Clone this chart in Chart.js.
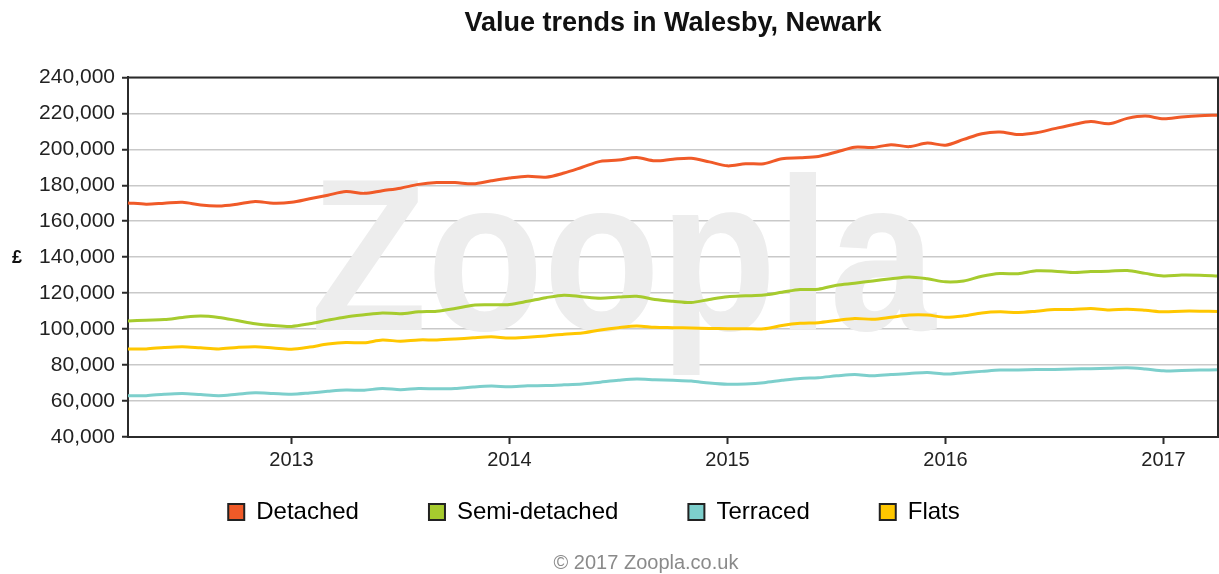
<!DOCTYPE html>
<html>
<head>
<meta charset="utf-8">
<script src="https://cdn.jsdelivr.net/npm/chart.js@4/dist/chart.umd.min.js"></script>
<style>
  html, body { margin: 0; padding: 0; background: #fff; }
  #wrap { width: 1219px; height: 574px; position: relative; }
</style>
</head>
<body>
<div id="wrap"><canvas id="chart"></canvas></div>
<script>
// monthly points, Apr 2012 .. Apr 2017
const months = [
  'Apr 2012','May 2012','Jun 2012','Jul 2012','Aug 2012','Sep 2012','Oct 2012','Nov 2012','Dec 2012',
  'Jan 2013','Feb 2013','Mar 2013','Apr 2013','May 2013','Jun 2013','Jul 2013','Aug 2013','Sep 2013','Oct 2013','Nov 2013','Dec 2013',
  'Jan 2014','Feb 2014','Mar 2014','Apr 2014','May 2014','Jun 2014','Jul 2014','Aug 2014','Sep 2014','Oct 2014','Nov 2014','Dec 2014',
  'Jan 2015','Feb 2015','Mar 2015','Apr 2015','May 2015','Jun 2015','Jul 2015','Aug 2015','Sep 2015','Oct 2015','Nov 2015','Dec 2015',
  'Jan 2016','Feb 2016','Mar 2016','Apr 2016','May 2016','Jun 2016','Jul 2016','Aug 2016','Sep 2016','Oct 2016','Nov 2016','Dec 2016',
  'Jan 2017','Feb 2017','Mar 2017','Apr 2017'
];

// values in £ thousands
const detached = [
  170.2,169.5,170,170.5,169,168.5,169.5,171,170,170.5,
  172.5,174.5,176.5,175.5,177,178.4,180.5,181.5,181.5,180.8,
  182.5,184,185,184.5,186.8,190,193.3,194,195.4,193.6,
  194.5,195,193,190.8,192,192,194.8,195.3,196,198.5,
  201.2,201,202.6,201.5,203.5,202.3,205.5,208.7,209.6,208.2,
  209.2,211.5,213.7,215.5,214.2,217.2,218.5,217,218,218.7,219
];
const semiDetached = [
  104.5,105,105.3,106.5,107.3,106.5,104.8,103,102,101.5,
  103,105,106.8,108,109,108.6,109.6,110,111.5,113.3,
  113.5,113.7,115.5,117.5,118.9,118,117.2,117.8,118.3,116.5,
  115.5,114.8,116.5,118,118.5,119,120.5,122,122.2,124.4,
  125.5,126.8,128,129,128,126.3,126.8,129.4,130.9,130.8,
  132.4,132.2,131.5,132,132.2,132.6,131,129.6,130.1,130,129.6
];
const terraced = [
  63,63,63.8,64.2,63.6,63,63.8,64.6,64.2,63.8,
  64.5,65.4,66.1,66,67,66.3,67,66.8,67,67.8,
  68.3,68,68.5,68.6,69,69.5,70.5,71.5,72.2,71.8,
  71.5,71.1,70,69.3,69.5,70.2,71.5,72.6,73,74,
  74.8,74,74.8,75.3,75.9,75,75.8,76.5,77.2,77.3,
  77.5,77.6,77.8,78,78.2,78.5,77.8,76.8,77,77.2,77.4
];
const flats = [
  89,89,89.8,90.2,89.6,89,89.8,90.2,89.5,88.8,
  90,91.7,92.6,92.4,93.9,93.3,94,94,94.5,95.2,
  95.7,95,95.5,96.2,97.2,97.8,99.5,100.8,101.7,101,
  100.8,100.6,100.4,100.2,100.2,100.2,102,103.2,103.6,104.8,
  105.9,105.5,106.6,107.8,107.8,106.6,107.4,109,109.6,109.3,
  110,110.9,110.9,111.5,110.6,111.1,110.5,109.6,110,110,109.8
];

const seriesNames  = ['Detached', 'Semi-detached', 'Terraced', 'Flats'];
const seriesColors = ['#f05a28', '#a6cb2e', '#7dcfcc', '#ffc700'];
const seriesData   = [detached, semiDetached, terraced, flats];

const yMin = 40, yMax = 240, yStep = 20;

const FONT = 'Liberation Sans, Arial, sans-serif';
const DARK = '#2b2b2b';

// extras: watermark, frame, £ label, footer, legend nudge
const extrasPlugin = {
  id: 'extras',
  afterLayout(chart) {
    // legend padding is shared by x and y; pull the box up so the row sits under the axis
    const lg = chart.legend;
    if (lg) {
      lg.top -= 40; lg.bottom -= 40;
      lg.left -= 15; lg.right -= 15;
    }
  },
  beforeDatasetsDraw(chart) {
    const { ctx } = chart;
    ctx.save();
    ctx.fillStyle = '#ededed';
    ctx.font = 'bold 218px ' + FONT;
    ctx.textAlign = 'center';
    ctx.textBaseline = 'alphabetic';
    ctx.fillText('Zoopla', 623, 330, 625);
    ctx.restore();
  },
  afterDraw(chart) {
    const { ctx, chartArea: a } = chart;
    ctx.save();
    ctx.strokeStyle = DARK;
    ctx.lineWidth = 2;
    ctx.beginPath();
    ctx.moveTo(a.left, a.top);
    ctx.lineTo(a.right, a.top);
    ctx.lineTo(a.right, a.bottom);
    ctx.stroke();

    ctx.fillStyle = '#111';
    ctx.font = 'bold 18px ' + FONT;
    ctx.textAlign = 'center';
    ctx.textBaseline = 'middle';
    ctx.fillText('£', 17, 258);

    ctx.fillStyle = '#8a8a8a';
    ctx.font = '20px ' + FONT;
    ctx.fillText('© 2017 Zoopla.co.uk', 646, 563);
    ctx.restore();
  }
};

new Chart(document.getElementById('chart'), {
  type: 'line',
  data: {
    labels: months,
    datasets: seriesNames.map((name, i) => ({
      label: name,
      data: seriesData[i],
      borderColor: seriesColors[i],
      backgroundColor: seriesColors[i],
      borderWidth: 3,
      pointRadius: 0,
      tension: 0.3,
      fill: false,
    })),
  },
  options: {
    responsive: true,
    maintainAspectRatio: false,
    animation: false,
    layout: { padding: { left: 0, right: 1, top: 0, bottom: 0 } },
    plugins: {
      title: {
        display: true,
        text: 'Value trends in Walesby, Newark',
        fullSize: false,
        color: '#111',
        font: { family: FONT, size: 27, weight: 'bold', lineHeight: 1.2 },
        padding: { top: 7, bottom: 38 },
      },
      legend: {
        position: 'bottom',
        labels: {
          color: '#222',
          font: { family: FONT, size: 24 },
          boxWidth: 16,
          boxHeight: 16,
          padding: 70,
          generateLabels: chart => chart.data.datasets.map((ds, i) => ({
            text: ds.label,
            fillStyle: ds.borderColor,
            strokeStyle: '#222',
            lineWidth: 2,
            datasetIndex: i,
            hidden: false,
          })),
        },
      },
      tooltip: { enabled: false },
    },
    scales: {
      x: {
        type: 'category',
        offset: false,
        afterFit: s => { s.height = 33; },
        afterBuildTicks: s => {
          s.ticks = s.ticks.filter(t => months[t.value].startsWith('Jan'));
        },
        ticks: {
          autoSkip: false,
          maxRotation: 0,
          padding: 4,
          color: '#222',
          font: { family: FONT, size: 20 },
          callback: function (v) { return months[v].slice(4); },
        },
        grid: { drawOnChartArea: false, tickLength: 7, tickColor: DARK, tickWidth: 2 },
        border: { color: DARK, width: 2 },
      },
      y: {
        min: yMin,
        max: yMax,
        afterFit: s => { s.width = 128; },
        ticks: {
          stepSize: yStep,
          padding: 7,
          color: '#222',
          font: { family: FONT, size: 21 },
          callback: v => (v * 1000).toLocaleString('en-GB'),
        },
        grid: { color: '#c9c9c9', lineWidth: 1.5, tickLength: 6, tickColor: DARK, tickWidth: 2 },
        border: { color: DARK, width: 2 },
      },
    },
  },
  plugins: [extrasPlugin],
});
</script>
</body>
</html>
